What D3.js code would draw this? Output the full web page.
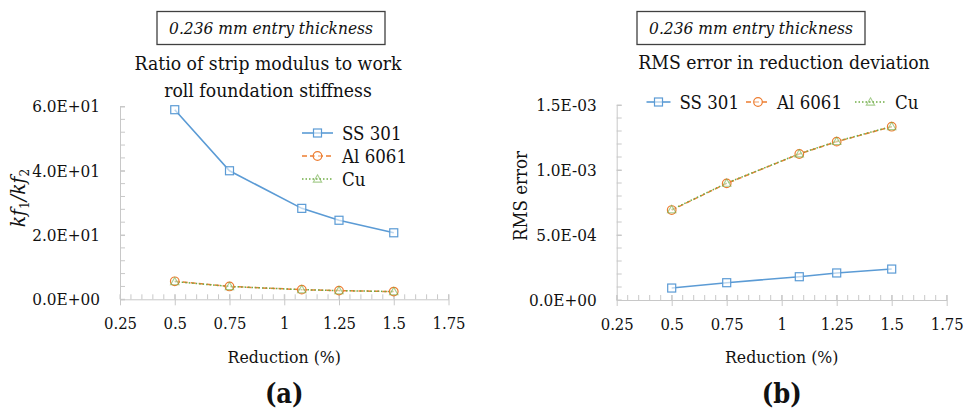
<!DOCTYPE html>
<html>
<head>
<meta charset="utf-8">
<script src="https://cdn.jsdelivr.net/npm/d3@7"></script>
<style>
  html, body { margin: 0; padding: 0; background: #fff; }
  svg { display: block; }
</style>
</head>
<body>
<svg id="chart" width="965" height="412"></svg>
<script>
// Reduction (%) at which each case was run
const reduction = [0.5, 0.75, 1.08, 1.25, 1.5];
const xTicks = [0.25, 0.5, 0.75, 1, 1.25, 1.5, 1.75];

// Panel (a): ratio of strip modulus to work roll foundation stiffness
const ratioSS301 = [59.0, 40.0, 28.3, 24.6, 20.7];
const ratioAl6061 = [5.6, 4.0, 3.0, 2.7, 2.4];
const ratioCu = [5.5, 4.0, 3.0, 2.7, 2.4];
const ratioTicks = [0, 20, 40, 60];

// Panel (b): RMS error in reduction deviation
const rmsSS301 = [9.2e-5, 1.33e-4, 1.79e-4, 2.08e-4, 2.38e-4];
const rmsAl6061 = [6.92e-4, 8.97e-4, 1.123e-3, 1.218e-3, 1.333e-3];
const rmsCu = [6.95e-4, 8.99e-4, 1.125e-3, 1.220e-3, 1.335e-3];
const rmsTicks = [0, 5e-4, 1e-3, 1.5e-3];

const seriesNames = ["SS 301", "Al 6061", "Cu"];

const styles = {
  "SS 301": { color: "#5B9BD5", dash: null, width: 1.6, marker: "square" },
  "Al 6061": { color: "#ED7D31", dash: "5,3", width: 1.5, marker: "circle" },
  "Cu": { color: "#70AD47", dash: "1.5,2", width: 1.5, marker: "triangle" }
};

const SERIF = "DejaVu Serif Condensed";

const axisColor = "#c8c8c8";
const svg = d3.select("#chart");

// 6.0E+01 style labels
function sciFormat(v) {
  if (v === 0) return "0.0E+00";
  const [m, e] = v.toExponential(1).split("e");
  const n = +e;
  return m + "E" + (n < 0 ? "-" : "+") + String(Math.abs(n)).padStart(2, "0");
}

function drawMarker(g, type, x, y, color) {
  if (type === "square") {
    g.append("rect").attr("x", x - 4).attr("y", y - 4).attr("width", 8).attr("height", 8)
      .attr("fill", "#fff").attr("fill-opacity", 0.6).attr("stroke", color).attr("stroke-width", 1.2);
  } else if (type === "circle") {
    g.append("circle").attr("cx", x).attr("cy", y).attr("r", 4.3)
      .attr("fill", "#fff").attr("fill-opacity", 0.5).attr("stroke", color).attr("stroke-width", 1.2);
  } else {
    const s = 4.2;
    g.append("path")
      .attr("d", `M${x},${y - s}L${x + s},${y + s * 0.75}L${x - s},${y + s * 0.75}Z`)
      .attr("fill", "none").attr("stroke", color).attr("stroke-opacity", 0.6).attr("stroke-width", 1.1);
  }
}

function panel(opts) {
  const { left, right, top, bottom, yMax, yTicks, yMinorStep, data, boxCx, titleLines, titleY,
          yTitle, label, legend } = opts;
  const g = svg.append("g").attr("font-family", SERIF);
  const x = d3.scaleLinear().domain([0.25, 1.75]).range([left, right]);
  const y = d3.scaleLinear().domain([0, yMax]).range([bottom, top]);

  // minor ticks point into the plot
  const xMinor = d3.range(0.25, 1.7501, 0.05);
  g.append("g").selectAll("line").data(xMinor).join("line")
    .attr("x1", d => x(d)).attr("x2", d => x(d)).attr("y1", bottom - 5).attr("y2", bottom)
    .attr("stroke", axisColor).attr("stroke-width", 1);
  const yMinor = d3.range(0, yMax * 1.0001, yMinorStep);
  g.append("g").selectAll("line").data(yMinor).join("line")
    .attr("x1", left).attr("x2", left + 5).attr("y1", d => y(d)).attr("y2", d => y(d))
    .attr("stroke", axisColor).attr("stroke-width", 1);

  // major ticks cross the axis line
  const xAxis = g.append("g").attr("transform", `translate(0,${bottom})`)
    .call(d3.axisBottom(x).tickValues(xTicks).tickFormat(d => String(d))
      .tickSize(6).tickSizeOuter(0).tickPadding(12));
  xAxis.attr("font-family", SERIF);
  xAxis.selectAll(".tick line").attr("y1", -5).attr("stroke", axisColor);
  xAxis.select(".domain").attr("stroke", axisColor);
  xAxis.selectAll(".tick text").attr("font-size", 16.5).attr("fill", "#111");

  const yAxis = g.append("g").attr("transform", `translate(${left},0)`)
    .call(d3.axisLeft(y).tickValues(yTicks).tickFormat(sciFormat).tickSize(5).tickSizeOuter(0).tickPadding(15));
  yAxis.attr("font-family", SERIF);
  yAxis.selectAll(".tick line").attr("x2", 5).attr("stroke", axisColor);
  yAxis.select(".domain").attr("stroke", axisColor);
  yAxis.selectAll(".tick text").attr("font-size", 17).attr("fill", "#111");

  const line = d3.line().x(d => x(d[0])).y(d => y(d[1]));
  seriesNames.forEach((name, i) => {
    const st = styles[name];
    const pts = reduction.map((r, j) => [r, data[i][j]]);
    g.append("path").datum(pts).attr("d", line).attr("fill", "none")
      .attr("stroke", st.color).attr("stroke-width", st.width)
      .attr("stroke-dasharray", st.dash);
  });
  seriesNames.forEach((name, i) => {
    const st = styles[name];
    reduction.forEach((r, j) => drawMarker(g, st.marker, x(r), y(data[i][j]), st.color));
  });

  // boxed note above the title
  const bw = 228, bh = 33;
  g.append("rect").attr("x", boxCx - bw / 2).attr("y", 11.5).attr("width", bw).attr("height", bh)
    .attr("fill", "#fff").attr("stroke", "#404040").attr("stroke-width", 1.3);
  g.append("text").attr("x", boxCx).attr("y", 34).attr("text-anchor", "middle")
    .attr("font-size", 17.2).attr("font-style", "italic").attr("fill", "#111")
    .text("0.236 mm entry thickness");

  titleLines.forEach((t, i) => {
    g.append("text").attr("x", opts.titleCx).attr("y", titleY + i * 26.5).attr("text-anchor", "middle")
      .attr("font-size", 19.2).attr("fill", "#111").text(t);
  });

  const yt = g.append("text").attr("transform", `translate(${opts.yTitleX},${opts.yTitleY}) rotate(-90)`)
    .attr("text-anchor", "middle").attr("fill", "#111").attr("font-size", yTitle.size);
  yTitle.build(yt);

  g.append("text").attr("x", (left + right) / 2).attr("y", 363).attr("text-anchor", "middle")
    .attr("font-size", 17.5).attr("fill", "#111").text("Reduction (%)");

  g.append("text").attr("x", (left + right) / 2).attr("y", 403).attr("text-anchor", "middle")
    .attr("font-size", 27).attr("font-weight", "bold").attr("fill", "#111").text(label);

  seriesNames.forEach((name, i) => {
    const st = styles[name];
    const p = legend[i];
    const lg = g.append("g");
    lg.append("line").attr("x1", p.x).attr("x2", p.x + p.len).attr("y1", p.y).attr("y2", p.y)
      .attr("stroke", st.color).attr("stroke-width", st.width).attr("stroke-dasharray", st.dash);
    drawMarker(lg, st.marker, p.x + p.len / 2, p.y, st.color);
    lg.append("text").attr("x", p.x + p.len + p.gap).attr("y", p.y + 6.5)
      .attr("font-size", 18.5).attr("fill", "#111").text(name);
  });
}

panel({
  left: 120, right: 448.5, top: 106.5, bottom: 299.3,
  yMax: 60, yTicks: ratioTicks, yMinorStep: 4,
  data: [ratioSS301, ratioAl6061, ratioCu],
  boxCx: 271, titleCx: 268, titleLines: ["Ratio of strip modulus to work", "roll foundation stiffness"], titleY: 70,
  yTitleX: 25, yTitleY: 198,
  yTitle: {
    size: 21,
    build: t => {
      t.attr("font-style", "italic");
      t.append("tspan").text("kf");
      t.append("tspan").attr("font-size", 13.5).attr("font-style", "normal").attr("dy", 4).text("1");
      t.append("tspan").attr("dy", -4).text("/kf");
      t.append("tspan").attr("font-size", 13.5).attr("font-style", "normal").attr("dy", 4).text("2");
    }
  },
  label: "(a)",
  legend: [
    { x: 302, y: 133, len: 31, gap: 9 },
    { x: 302, y: 156, len: 31, gap: 9 },
    { x: 302, y: 179, len: 31, gap: 9 }
  ]
});

panel({
  left: 616.7, right: 946.7, top: 105, bottom: 300,
  yMax: 1.5e-3, yTicks: rmsTicks, yMinorStep: 1e-4,
  data: [rmsSS301, rmsAl6061, rmsCu],
  boxCx: 751, titleCx: 784, titleLines: ["RMS error in reduction deviation"], titleY: 69,
  yTitleX: 527, yTitleY: 196,
  yTitle: { size: 18.5, build: t => t.text("RMS error") },
  label: "(b)",
  legend: [
    { x: 646.5, y: 102, len: 24, gap: 9 },
    { x: 746, y: 102, len: 24, gap: 7 },
    { x: 855, y: 102, len: 31, gap: 9 }
  ]
});
</script>
</body>
</html>
